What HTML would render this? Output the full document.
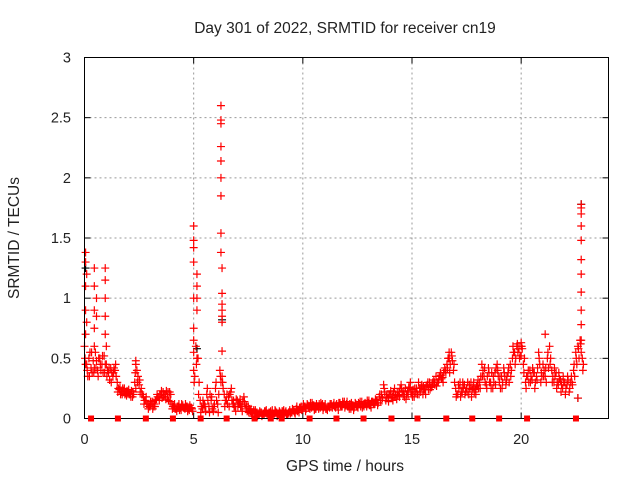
<!DOCTYPE html>
<html><head><meta charset="utf-8"><style>
body{margin:0;background:#fff;}
svg{display:block;font-family:"Liberation Sans",sans-serif;}
</style></head><body>
<svg id="chart" width="640" height="480">
<text x="345" y="33" font-size="15.5" text-anchor="middle" fill="#222">Day 301 of 2022, SRMTID for receiver cn19</text>
<text x="345" y="471" font-size="15.5" text-anchor="middle" fill="#222">GPS time / hours</text>
<text transform="translate(19,238) rotate(-90)" font-size="15.5" text-anchor="middle" fill="#222">SRMTID / TECUs</text>
<g id="grid"></g>
<g id="ticks"></g>
<g id="marks"></g>
<rect x="84.5" y="57.5" width="524" height="361" fill="none" stroke="#000" stroke-width="1"/>
<g id="squares"></g>
</svg>
<script>
const xTicks = [0,5,10,15,20];
const yTicks = [0,0.5,1,1.5,2,2.5,3];
const yTickLabels = ["0","0.5","1","1.5","2","2.5","3"];
const sampleStep = 0.1;
const values = [
0.6,0.45,0.5,0.42,0.48,0.55,0.4,0.5,0.45,0.52,
0.45,0.38,0.42,0.35,0.4,0.3,0.24,0.22,0.23,0.21,
0.22,0.2,0.18,0.3,0.4,0.28,0.25,0.18,0.15,0.12,
0.1,0.14,0.12,0.16,0.18,0.2,0.22,0.2,0.18,0.22,
0.12,0.1,0.08,0.1,0.09,0.11,0.08,0.1,0.07,0.09,
0.4,0.6,0.5,0.15,0.08,0.12,0.2,0.1,0.15,0.06,
0.25,0.12,0.4,0.35,0.2,0.15,0.18,0.22,0.12,0.1,
0.15,0.12,0.1,0.18,0.08,0.1,0.06,0.05,0.04,0.05,
0.03,0.05,0.04,0.06,0.03,0.05,0.07,0.04,0.05,0.03,
0.04,0.06,0.05,0.03,0.07,0.05,0.06,0.08,0.07,0.09,
0.08,0.1,0.12,0.1,0.09,0.11,0.08,0.1,0.09,0.12,
0.1,0.08,0.1,0.12,0.11,0.09,0.1,0.13,0.1,0.14,
0.12,0.1,0.08,0.11,0.13,0.1,0.12,0.14,0.1,0.12,
0.13,0.11,0.14,0.12,0.15,0.18,0.2,0.28,0.15,0.17,
0.2,0.18,0.25,0.16,0.22,0.28,0.2,0.25,0.22,0.26,
0.2,0.18,0.25,0.3,0.22,0.2,0.24,0.28,0.3,0.26,
0.32,0.35,0.3,0.38,0.34,0.42,0.45,0.5,0.55,0.4,
0.25,0.2,0.3,0.22,0.28,0.25,0.2,0.3,0.26,0.24,
0.28,0.3,0.45,0.35,0.28,0.42,0.3,0.25,0.38,0.45,
0.3,0.35,0.42,0.28,0.38,0.45,0.5,0.55,0.6,0.58,
0.52,0.45,0.3,0.35,0.4,0.32,0.38,0.35,0.55,0.3,
0.45,0.35,0.5,0.6,0.4,0.3,0.38,0.28,0.32,0.25,
0.3,0.28,0.22,0.35,0.4,0.55,0.6,0.65,0.5
];
const values2 = [
0.45,0.35,0.55,0.38,0.42,0.48,0.5,0.4,0.38,0.45,
0.4,0.32,0.38,0.42,0.35,0.25,0.2,0.25,0.2,0.23,
0.2,0.23,0.2,0.25,0.35,0.22,0.2,0.15,0.12,0.1,
0.12,0.1,0.15,0.18,0.2,0.17,0.2,0.23,0.15,0.2,
0.1,0.08,0.1,0.07,0.12,0.09,0.1,0.08,0.09,0.06,
0.35,0.5,0.3,0.1,0.12,0.06,0.15,0.2,0.08,0.12,
0.15,0.2,0.3,0.25,0.15,0.12,0.2,0.15,0.1,0.16,
0.12,0.1,0.14,0.12,0.06,0.08,0.04,0.07,0.05,0.03,
0.05,0.03,0.06,0.04,0.05,0.03,0.04,0.06,0.03,0.05,
0.06,0.04,0.03,0.05,0.05,0.07,0.04,0.06,0.09,0.07,
0.1,0.08,0.09,0.13,0.11,0.08,0.1,0.12,0.11,0.09,
0.08,0.1,0.12,0.09,0.1,0.12,0.13,0.1,0.12,0.11,
0.1,0.12,0.11,0.09,0.1,0.13,0.1,0.11,0.13,0.15,
0.11,0.14,0.12,0.15,0.13,0.15,0.17,0.22,0.2,0.2,
0.17,0.22,0.2,0.19,0.25,0.22,0.18,0.2,0.26,0.22,
0.24,0.22,0.2,0.25,0.28,0.24,0.27,0.24,0.26,0.3,
0.28,0.3,0.35,0.33,0.38,0.38,0.5,0.45,0.48,0.3,
0.2,0.25,0.22,0.26,0.22,0.3,0.25,0.24,0.22,0.27,
0.25,0.35,0.4,0.3,0.35,0.3,0.38,0.3,0.42,0.35,
0.25,0.3,0.35,0.35,0.3,0.4,0.55,0.5,0.55,0.52,
0.58,0.5,0.35,0.3,0.35,0.38,0.3,0.42,0.45,0.35,
0.4,0.3,0.42,0.5,0.35,0.35,0.3,0.33,0.28,0.3,
0.25,0.32,0.3,0.28,0.35,0.45,0.5,0.55,0.45
];
const values3 = [
0.5,0.4,0.35,0.55,0.38,0.42,0.35,0.45,0.52,0.38,
0.35,0.42,0.3,0.38,0.45,0.22,0.26,0.2,0.25,0.19,
0.24,0.18,0.22,0.38,0.3,0.32,0.2,0.12,0.18,0.08,
0.14,0.08,0.1,0.2,0.15,0.23,0.18,0.16,0.22,0.14,
0.08,0.12,0.06,0.12,0.07,0.09,0.12,0.06,0.11,0.08,
0.3,0.45,0.2,0.05,0.15,0.1,0.25,0.05,0.18,0.1,
0.3,0.05,0.35,0.3,0.1,0.2,0.1,0.25,0.15,0.06,
0.1,0.16,0.06,0.14,0.1,0.05,0.08,0.02,0.07,0.02,
0.06,0.02,0.03,0.07,0.02,0.06,0.03,0.07,0.02,0.06,
0.03,0.07,0.06,0.04,0.04,0.08,0.05,0.1,0.05,0.1,
0.12,0.06,0.11,0.08,0.13,0.07,0.12,0.08,0.13,0.07,
0.12,0.07,0.09,0.1,0.13,0.11,0.07,0.11,0.14,0.09,
0.14,0.08,0.13,0.07,0.12,0.09,0.14,0.09,0.12,0.1,
0.15,0.09,0.12,0.16,0.11,0.2,0.15,0.25,0.18,0.14,
0.23,0.15,0.18,0.22,0.18,0.25,0.23,0.16,0.2,0.3,
0.18,0.25,0.22,0.2,0.26,0.27,0.2,0.3,0.24,0.28,
0.3,0.27,0.32,0.36,0.3,0.4,0.42,0.38,0.52,0.45,
0.18,0.28,0.18,0.3,0.2,0.22,0.28,0.18,0.3,0.2,
0.32,0.25,0.35,0.42,0.25,0.38,0.25,0.35,0.28,0.4,
0.35,0.25,0.38,0.32,0.42,0.35,0.6,0.45,0.62,0.5,
0.6,0.38,0.25,0.4,0.3,0.42,0.25,0.32,0.5,0.38,
0.35,0.42,0.55,0.45,0.3,0.42,0.25,0.38,0.22,0.35,
0.2,0.35,0.25,0.3,0.45,0.5,0.58,0.62,0.4
];
const spikeTimes = [0.05,0.05,0.05,0.05,0.05,0.1,0.1,0.45,0.45,0.45,0.45,0.45,0.55,0.55,0.95,0.95,0.95,0.95,0.95,1.0,2.35,2.35,
5.0,5.0,5.0,5.0,5.0,5.0,5.0,5.0,5.15,5.15,5.15,5.15,
6.25,6.25,6.25,6.25,6.25,6.25,6.25,6.25,6.25,6.3,6.3,6.3,6.3,6.3,6.3,6.3,
16.7,16.7,20.0,20.0,21.1,22.6,
22.75,22.75,22.75,22.75,22.75,22.75,22.75,22.75,22.75,22.75,22.75];
const spikeValues = [1.38,1.3,1.1,0.9,0.7,1.2,0.8,1.25,1.1,0.9,0.75,0.6,1.0,0.85,1.25,1.15,1.0,0.85,0.7,0.6,0.48,0.45,
1.6,1.48,1.42,1.3,1.0,0.75,0.65,0.55,1.2,1.1,1.0,0.9,
2.6,2.48,2.45,2.26,2.14,2.0,1.85,1.54,1.38,1.25,1.04,0.95,0.9,0.85,0.8,0.56,
0.55,0.5,0.63,0.6,0.7,0.17,
1.78,1.75,1.7,1.6,1.48,1.32,1.2,1.05,0.9,0.78,0.65];
const blackTimes = [0.05,5.15,6.3,22.6,22.75];
const blackValues = [1.25,0.58,0.82,0.17,1.78];
const gapTimes = [0.3,1.53,2.81,4.05,5.32,6.51,7.79,8.53,9.03,10.31,11.54,12.78,14.06,15.25,16.57,17.76,18.99,20.27,22.51];

const NS='http://www.w3.org/2000/svg';
const X0=84.5,X1=608.5,Y0=418.5,Y1=57.5;
function xs(h){return X0+(h/24)*(X1-X0);}
function ys(v){return Y0-(v/3)*(Y0-Y1);}
function el(tag,attrs,parent){const e=document.createElementNS(NS,tag);for(const k in attrs)e.setAttribute(k,attrs[k]);parent.appendChild(e);return e;}
const grid=document.getElementById('grid'),ticks=document.getElementById('ticks'),marks=document.getElementById('marks'),sq=document.getElementById('squares');
xTicks.forEach((t,i)=>{
  const x=xs(t);
  if(t>0){const g=el('line',{x1:x,x2:x,y1:Y1,y2:Y0,stroke:'#999','stroke-dasharray':'2,3'},grid);
  
  }
  el('line',{x1:x,x2:x,y1:Y0,y2:Y0-6,stroke:'#000'},ticks);
  el('line',{x1:x,x2:x,y1:Y1,y2:Y1+6,stroke:'#000'},ticks);
  const tx=el('text',{x:x,y:444,'font-size':14.5,'text-anchor':'middle',fill:'#222'},ticks);
  tx.textContent=String(t);
  
  
});
yTicks.forEach((v,i)=>{
  const y=ys(v);
  if(v>0&&v<3){const g=el('line',{x1:X0,x2:X1,y1:y,y2:y,stroke:'#999','stroke-dasharray':'2,3'},grid);
  
  }
  el('line',{x1:X0,x2:X0+6,y1:y,y2:y,stroke:'#000'},ticks);
  el('line',{x1:X1,x2:X1-6,y1:y,y2:y,stroke:'#000'},ticks);
  const tx=el('text',{x:71,y:y+5,'font-size':14.5,'text-anchor':'end',fill:'#222'},ticks);
  tx.textContent=yTickLabels[i];
  
  
});
function cross(t,v,color){
  const x=xs(t),y=ys(v);
  const p=el('path',{d:`M${x-4},${y}H${x+4}M${x},${y-4}V${y+4}`,stroke:color,'stroke-width':1.2,fill:'none'},marks);
  
  
}
blackTimes.forEach((t,i)=>cross(t,blackValues[i],'#000'));
values.forEach((v,i)=>{if(v!=null)cross(i*sampleStep,v,'#f00');});
values2.forEach((v,i)=>{if(v!=null)cross(i*sampleStep+0.05,v,'#f00');});
values3.forEach((v,i)=>{if(v!=null)cross(i*sampleStep+0.025,v,'#f00');});
spikeTimes.forEach((t,i)=>cross(t,spikeValues[i],'#f00'));
gapTimes.forEach(t=>{
  const r=el('rect',{x:xs(t)-3,y:Y0-3,width:6,height:6,fill:'#f00'},sq);
  
  
});
</script>
</body></html>
